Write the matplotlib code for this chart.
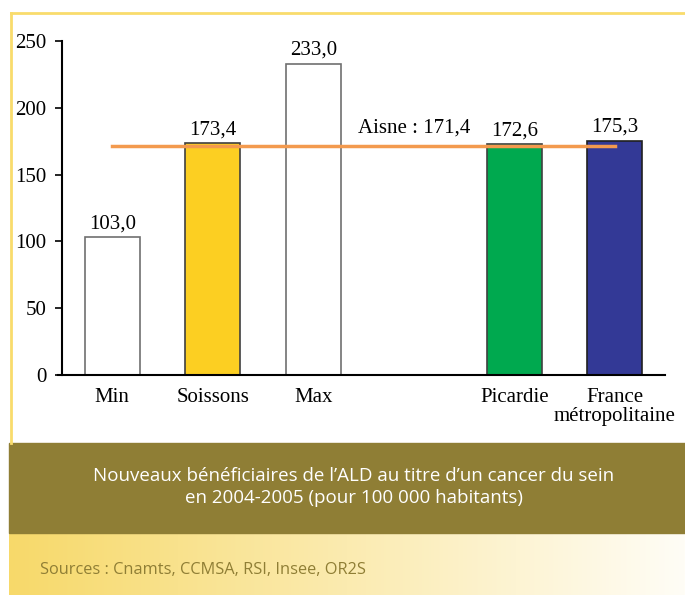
import numpy as np
import matplotlib.pyplot as plt
from matplotlib.patches import Rectangle

# data
categories = ["Min", "Soissons", "Max", "Picardie", "France\nmétropolitaine"]
positions = [0, 1, 2, 4, 5]
values = [103.0, 173.4, 233.0, 172.6, 175.3]
bar_colors = ["white", "#FCCF22", "white", "#00A94F", "#333996"]
edge_colors = ["#707070", "#404040", "#707070", "#404040", "#202020"]
aisne_value = 171.4
yticks = [0, 50, 100, 150, 200, 250]

title_lines = "Nouveaux bénéficiaires de l\u2019ALD au titre d\u2019un cancer du sein\nen 2004-2005 (pour 100 000 habitants)"
source_text = "Sources : Cnamts, CCMSA, RSI, Insee, OR2S"

W, H = 685, 595
fig = plt.figure(figsize=(W / 100, H / 100), dpi=100)

def fx(px):
    return px / W

def fy(py):
    return 1 - py / H

# frame lines (yellow)
fig.add_artist(plt.Line2D([fx(11), fx(11)], [fy(13), fy(443)], color="#F9DC6C", lw=2))
fig.add_artist(plt.Line2D([fx(11), 1], [fy(13), fy(13)], color="#F9DC6C", lw=2))

# olive caption band
fig.patches.append(Rectangle((fx(9), fy(533)), 1 - fx(9), fy(443) - fy(533),
                             transform=fig.transFigure, color="#8F7E35", zorder=0))
fig.text(fx(354), fy(487), title_lines, ha="center", va="center", color="white",
         fontsize=13.5, family="Open Sans", linespacing=1.25)

# gradient sources band
gax = fig.add_axes([fx(9), 0, 1 - fx(9), fy(533)])
grad = np.linspace(0, 1, 256)
c0 = np.array([247, 217, 106]) / 255
c1 = np.array([255, 253, 246]) / 255
img = c0[None, :] + (c1 - c0)[None, :] * grad[:, None]
gax.imshow(img[None, :, :], aspect="auto", extent=[0, 1, 0, 1])
gax.axis("off")
fig.text(fx(40), fy(570), source_text, ha="left", va="center", color="#8F7E35",
         fontsize=11.8, family="Open Sans")

# main chart
ax = fig.add_axes([fx(62), fy(375), fx(665) - fx(62), fy(41) - fy(375)])
serif = "Liberation Serif"
fs = 15
ax.bar(positions, values, width=0.55, color=bar_colors, edgecolor=edge_colors, linewidth=1.2, zorder=2)
for p, v in zip(positions, values):
    ax.text(p, v + 3, f"{v:.1f}".replace(".", ","), ha="center", va="bottom",
            fontsize=fs, family=serif)

ax.plot([positions[0], positions[-1]], [aisne_value, aisne_value], color="#F39A4E", lw=2.5, zorder=3)
ax.text(3, aisne_value + 6, f"Aisne : {aisne_value:.1f}".replace(".", ","), ha="center",
        va="bottom", fontsize=fs, family=serif)

ax.set_xlim(-0.5, 5.5)
ax.set_ylim(0, 250)
ax.set_yticks(yticks)
ax.set_yticklabels([str(t) for t in yticks], family=serif, fontsize=fs)
ax.set_xticks(positions)
ax.set_xticklabels(categories, family=serif, fontsize=fs, linespacing=1.0)
ax.tick_params(axis="x", length=0, pad=9)
ax.tick_params(axis="y", length=5, width=1.2, pad=6)
for s in ["top", "right"]:
    ax.spines[s].set_visible(False)
ax.spines["left"].set_linewidth(1.5)
ax.spines["bottom"].set_linewidth(1.5)
ax.spines["bottom"].set_bounds(-0.54, 5.5)
ax.patch.set_alpha(0)

fig.savefig("out.png", dpi=100)
